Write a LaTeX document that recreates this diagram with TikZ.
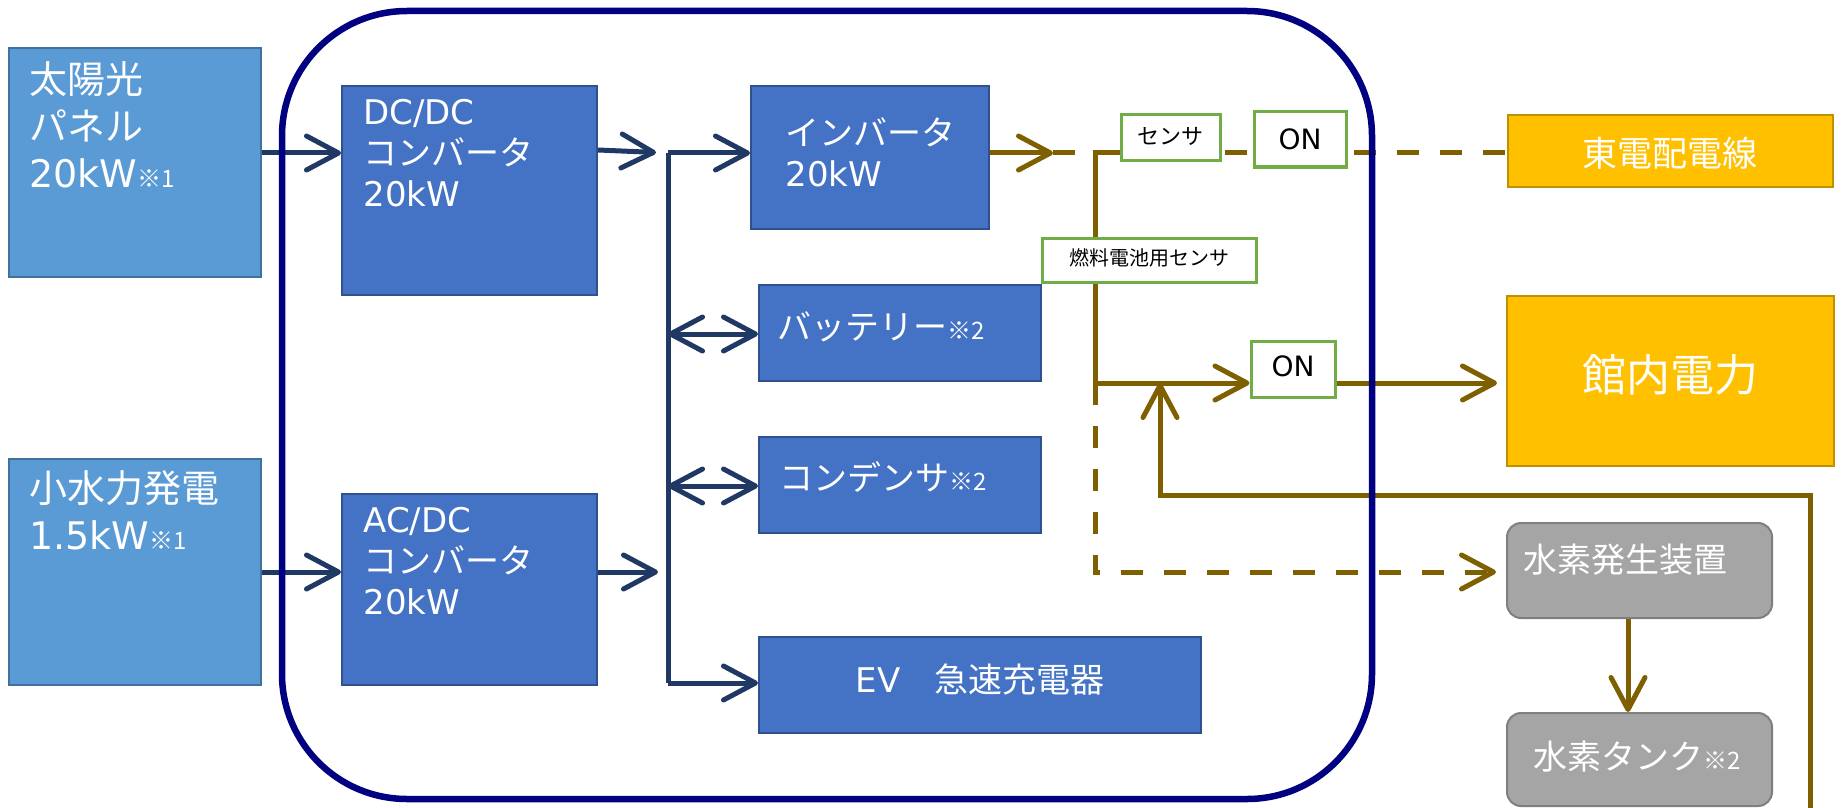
\documentclass[tikz,border=0pt]{standalone}
\usepackage{fontspec}
\setmainfont{Noto Sans CJK JP}
\newfontfamily\lat{DejaVu Sans}
\usetikzlibrary{arrows.meta,backgrounds}
\definecolor{srcfill}{HTML}{5B9BD5}
\definecolor{srcdraw}{HTML}{41719C}
\definecolor{cvfill}{HTML}{4472C4}
\definecolor{cvdraw}{HTML}{2F528F}
\definecolor{orfill}{HTML}{FFC000}
\definecolor{ordraw}{HTML}{BF9000}
\definecolor{grfill}{HTML}{A5A5A5}
\definecolor{grdraw}{HTML}{7F7F7F}
\definecolor{sgreen}{HTML}{70AD47}
\definecolor{framenavy}{HTML}{000080}
\definecolor{arrblue}{HTML}{203864}
\definecolor{brn}{HTML}{7F6000}
\newcommand\fsA{\fontsize{19}{23.5}\selectfont}
\newcommand\fsB{\fontsize{17}{20.5}\selectfont}
\newcommand\fsE{\fontsize{17.5}{21}\selectfont}
\newcommand\fsN{\fontsize{12}{12}\selectfont}
\newcommand\fsS{\fontsize{11}{13}\selectfont}
\newcommand\fsT{\fontsize{10}{12}\selectfont}
\newcommand\fsO{\fontsize{14}{17}\selectfont}
\newcommand\fsK{\fontsize{22}{26}\selectfont}
\begin{document}
\begin{tikzpicture}[x=0.5pt,y=-0.5pt,
  box/.style={draw, inner sep=0pt, line width=1pt},
  src/.style={box, fill=srcfill, draw=srcdraw},
  cv/.style={box, fill=cvfill, draw=cvdraw},
  orb/.style={box, fill=orfill, draw=ordraw},
  grb/.style={box, fill=grfill, draw=grdraw, rounded corners=7pt},
  snb/.style={box, fill=white, draw=sgreen, line width=1.5pt},
  wtxt/.style={text=white, inner sep=0pt, anchor=west, align=left},
  ktxt/.style={text=black, inner sep=0pt, anchor=center},
  tip/.style={-{Straight Barb[length=16pt,width=17pt,round]}},
  dtip/.style={{Straight Barb[length=16pt,width=17pt,round]}-{Straight Barb[length=16pt,width=17pt,round]}},
  bline/.style={draw=arrblue, line width=2.5pt},
  brline/.style={draw=brn, line width=2.5pt},
  brdash/.style={brline, dash pattern=on 11pt off 10.5pt}
]
\useasboundingbox (0,0) rectangle (1842,808);

% boxes
\node[src, minimum width=126pt, minimum height=114.5pt] (sun) at (135,162.5) {};
\node[src, minimum width=126pt, minimum height=113pt] (hydro) at (135,572) {};
\node[cv, minimum width=127.5pt, minimum height=104.5pt] (dcdc) at (469.5,190.5) {};
\node[cv, minimum width=127.5pt, minimum height=95.5pt] (acdc) at (469.5,589.5) {};
\node[cv, minimum width=119pt, minimum height=71.5pt] (inv) at (870,157.5) {};
\node[cv, minimum width=141pt, minimum height=48pt] (batt) at (900,333) {};
\node[cv, minimum width=141pt, minimum height=48pt] (cond) at (900,485) {};
\node[cv, minimum width=221pt, minimum height=48pt] (ev) at (980,685) {};
\node[snb, minimum width=49.5pt, minimum height=23pt] (sens) at (1170.5,138) {};
\node[snb, minimum width=46pt, minimum height=27.5pt] (on1) at (1300,139.5) {};
\node[snb, minimum width=107pt, minimum height=22pt] (fcs) at (1149,260) {};
\node[snb, minimum width=42pt, minimum height=28pt] (on2) at (1293,369) {};
\node[orb, minimum width=162.5pt, minimum height=36pt] (toden) at (1670.5,151) {};
\node[orb, minimum width=163.5pt, minimum height=85pt] (kannai) at (1670.5,381) {};
\node[grb, minimum width=132.5pt, minimum height=47.5pt] (h2gen) at (1639.5,570.5) {};
\node[grb, minimum width=132.5pt, minimum height=46.5pt] (h2tank) at (1639.5,759.5) {};

% texts
\node[wtxt, font=\fsA] (tsun) at (29,125) {太陽光\\パネル\\{\lat 20kW}{\fsN ※1}};
\node[wtxt, font=\fsA] (thydro) at (29,510) {小水力発電\\{\lat 1.5kW}{\fsN ※1}};
\node[wtxt, font=\fsB] (tdcdc) at (363,153) {{\lat DC/DC}\\コンバータ\\{\lat 20kW}};
\node[wtxt, font=\fsB] (tacdc) at (363,561) {{\lat AC/DC}\\コンバータ\\{\lat 20kW}};
\node[wtxt, font=\fsB] (tinv) at (785,152) {インバータ\\{\lat 20kW}};
\node[wtxt, font=\fsB] (tbatt) at (777,327) {バッテリー{\fsN ※2}};
\node[wtxt, font=\fsB] (tcond) at (779,477) {コンデンサ{\fsN ※2}};
\node[wtxt, font=\fsB, anchor=center] (tev) at (980,680) {{\lat EV}　急速充電器};
\node[ktxt, font=\fsS] (tsens) at (1170,136) {センサ};
\node[ktxt, font=\fsO] (ton1) at (1300,139) {\lat ON};
\node[ktxt, font=\fsT] (tfcs) at (1149,258) {燃料電池用センサ};
\node[ktxt, font=\fsO] (ton2) at (1293,366) {\lat ON};
\node[wtxt, font=\fsE, anchor=center] (ttoden) at (1670,153) {東電配電線};
\node[wtxt, font=\fsK, anchor=center] (tkannai) at (1670,375) {館内電力};
\node[wtxt, font=\fsB] (th2gen) at (1523,560) {水素発生装置};
\node[wtxt, font=\fsB] (th2tank) at (1533,757) {水素タンク{\fsN ※2}};

% free points
\coordinate (busT) at (668,153);
\coordinate (busM) at (668,572);
\coordinate (busB) at (668,683);
\coordinate (invOut) at (1053,153);
\coordinate (brT) at (1095,153);
\coordinate (J) at (1095,383);
\coordinate (brB) at (1095,572);
\coordinate (fcIn) at (1810,808);
\coordinate (fbR) at (1810,495);
\coordinate (fbL) at (1160,495);
\coordinate (fbTip) at (1160,383);

\begin{scope}[on background layer]
\fill[white] (0,0) rectangle (1842,808);
% DC side
\draw[bline, tip] (sun.east |- busT) -- (dcdc.west |- busT);
\draw[bline, tip] (hydro.east |- busM) -- (acdc.west |- busM);
\draw[bline, tip, shorten >=6pt] (dcdc.east |- 0,150) -- (busT);
\draw[bline, tip, shorten >=5pt] (acdc.east |- busM) -- (busM);
\draw[bline] (busT) -- (busB);
\draw[bline, tip] (busT) -- (inv.west |- busT);
\draw[bline, dtip] (busT |- 0,334) -- (batt.west |- 0,334);
\draw[bline, dtip] (busT |- 0,486) -- (cond.west |- 0,486);
\draw[bline, tip] (busB) -- (ev.west |- busB);
% AC side
\draw[brline, tip] (inv.east |- invOut) -- (invOut);
\draw[brdash] (invOut) -- (toden.west |- invOut);
\draw[brline] (sens.west |- brT) -- (brT) -- (brT |- fcs.north);
\draw[brline] (brT |- fcs.south) -- (J);
\draw[brline, tip] (J) -- (on2.west |- J);
\draw[brline, tip, shorten >=4.5pt] (on2.east |- J) -- (kannai.west |- J);
\draw[brdash, tip, shorten >=5pt] (J) -- (brB) -- (h2gen.west |- brB);
\draw[brline, tip] (fcIn) -- (fbR) -- (fbL) -- (fbTip);
\draw[brline, tip] (h2gen.south -| 1628,0) -- (h2tank.north -| 1628,0);
\end{scope}

% outer frame
\node[draw=framenavy, line width=3.25pt, rounded corners=62.5pt, inner sep=0pt,
      minimum width=545pt, minimum height=394pt] (frame) at (827,405) {};
\end{tikzpicture}
\end{document}
